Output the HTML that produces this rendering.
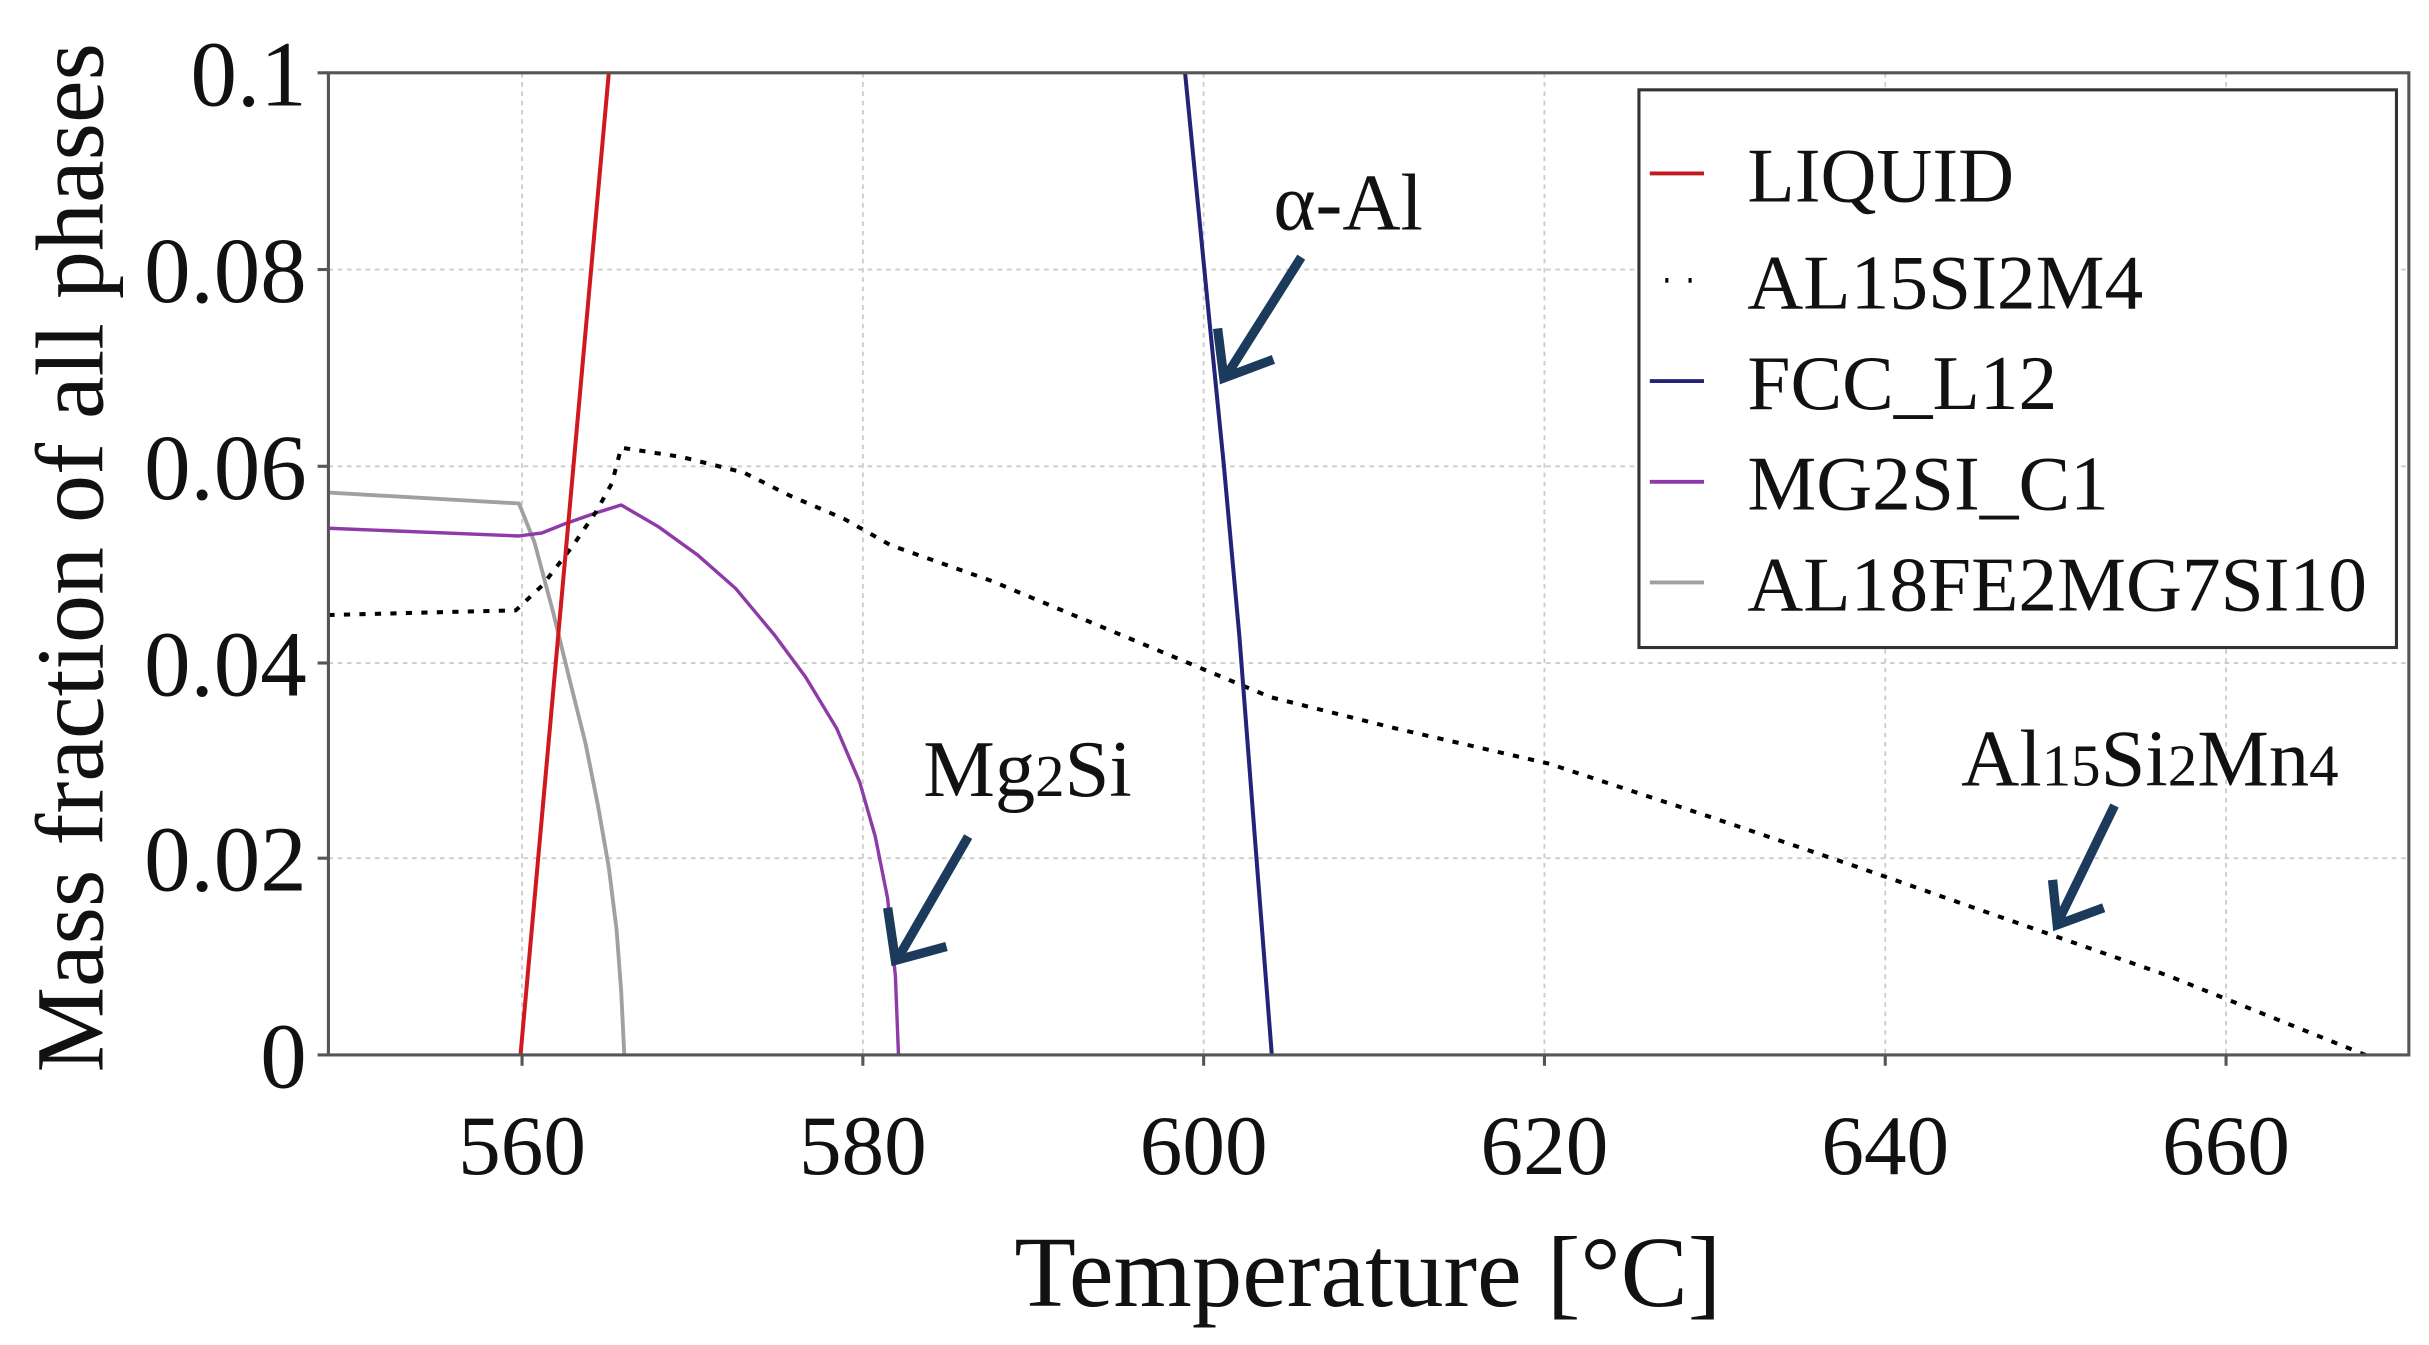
<!DOCTYPE html>
<html><head><meta charset="utf-8"><style>html,body{margin:0;padding:0;background:#fff}svg{display:block}</style></head>
<body>
<svg width="2429" height="1345" viewBox="0 0 1568 868.25" xmlns="http://www.w3.org/2000/svg" font-family="'Liberation Serif', serif">
<rect width="1568" height="869" fill="#fff"/>
<g stroke="#ccc" stroke-width="1.2" stroke-dasharray="3,3">
<line x1="337" y1="47" x2="337" y2="681"/><line x1="557" y1="47" x2="557" y2="681"/><line x1="777" y1="47" x2="777" y2="681"/><line x1="997" y1="47" x2="997" y2="681"/><line x1="1217" y1="47" x2="1217" y2="681"/><line x1="1437" y1="47" x2="1437" y2="681"/>
<line x1="212" y1="174" x2="1555" y2="174"/><line x1="212" y1="301" x2="1555" y2="301"/><line x1="212" y1="428" x2="1555" y2="428"/><line x1="212" y1="554" x2="1555" y2="554"/>
</g>
<g fill="none" stroke-linejoin="round">
<polyline stroke="#a0a0a0" stroke-width="2.5" points="212,318 335,325 345,350 357,395 368,440 378,480 386,520 393,560 398,600 401,640 403,681"/>
<polyline stroke="#8e3aa8" stroke-width="2.2" points="212,341 335,346 350,344 365,338 385,331 401,326 425,340 450,358 475,380 500,410 520,437 540,470 555,505 565,540 573,580 578,630 580,681"/>
<polyline stroke="#000" stroke-width="2.6" stroke-dasharray="4,6" points="212,397 333,394 350,378 370,352 385,330 395,312 401,289 440,295 480,305 510,320 545,335 575,352 640,375 700,400 760,425 820,450 900,470 1000,493 1100,526 1200,560 1300,595 1400,630 1527,681"/>
<polyline stroke="#d0191f" stroke-width="2.6" points="336,681 393,47"/>
<polyline stroke="#23237a" stroke-width="2.6" points="765,47 780,200 790,300 800,410 810,540 821,681"/>
</g>
<g stroke="#1c3a5c" stroke-width="6" fill="none" stroke-linecap="butt">
<line x1="840" y1="166" x2="792" y2="242"/><polyline points="786,212 790,244 822,232"/>
<line x1="625" y1="540" x2="580" y2="618"/><polyline points="573,586 578,620 611,611"/>
<line x1="1365" y1="520" x2="1329" y2="594"/><polyline points="1325,568 1328,597 1358,586"/>
</g>
<rect x="212" y="47" width="1343" height="634" fill="none" stroke="#555" stroke-width="2"/>
<g stroke="#555" stroke-width="2"><line x1="337" y1="681" x2="337" y2="688"/><line x1="557" y1="681" x2="557" y2="688"/><line x1="777" y1="681" x2="777" y2="688"/><line x1="997" y1="681" x2="997" y2="688"/><line x1="1217" y1="681" x2="1217" y2="688"/><line x1="1437" y1="681" x2="1437" y2="688"/>
<line x1="205" y1="47" x2="212" y2="47"/><line x1="205" y1="174" x2="212" y2="174"/><line x1="205" y1="301" x2="212" y2="301"/><line x1="205" y1="428" x2="212" y2="428"/><line x1="205" y1="554" x2="212" y2="554"/><line x1="205" y1="681" x2="212" y2="681"/></g>
<rect x="1058" y="58" width="489" height="360" fill="#fff" stroke="#333" stroke-width="2"/>
<g stroke-width="2.5"><line x1="1065" y1="112" x2="1100" y2="112" stroke="#c0191f"/><line x1="1075" y1="181" x2="1077" y2="181" stroke="#000" stroke-width="3"/><line x1="1090" y1="181" x2="1092" y2="181" stroke="#000" stroke-width="3"/><line x1="1065" y1="246" x2="1100" y2="246" stroke="#23237a"/><line x1="1065" y1="311" x2="1100" y2="311" stroke="#8e3aa8"/><line x1="1065" y1="376" x2="1100" y2="376" stroke="#a0a0a0"/></g>
<g font-size="50" fill="#111"><text x="1128" y="130">LIQUID</text><text x="1128" y="199">AL15SI2M4</text><text x="1128" y="264">FCC_L12</text><text x="1128" y="329">MG2SI_C1</text><text x="1128" y="394">AL18FE2MG7SI10</text></g>
<g font-size="60" fill="#111" text-anchor="end"><text x="198" y="68">0.1</text><text x="198" y="195">0.08</text><text x="198" y="322">0.06</text><text x="198" y="449">0.04</text><text x="198" y="575">0.02</text><text x="198" y="702">0</text></g>
<g font-size="55" fill="#111" text-anchor="middle"><text x="337" y="758">560</text><text x="557" y="758">580</text><text x="777" y="758">600</text><text x="997" y="758">620</text><text x="1217" y="758">640</text><text x="1437" y="758">660</text></g>
<text x="883" y="843" font-size="65" text-anchor="middle" fill="#111">Temperature [°C]</text>
<text transform="translate(66,360) rotate(-90)" font-size="62" text-anchor="middle" fill="#111">Mass fraction of all phases</text>
<g font-size="52" fill="#111"><text x="822" y="148">α-Al</text><text x="596" y="514">Mg<tspan font-size="38">2</tspan>Si</text><text x="1266" y="507">Al<tspan font-size="38">15</tspan>Si<tspan font-size="38">2</tspan>Mn<tspan font-size="38">4</tspan></text></g>
</svg>
</body></html>
